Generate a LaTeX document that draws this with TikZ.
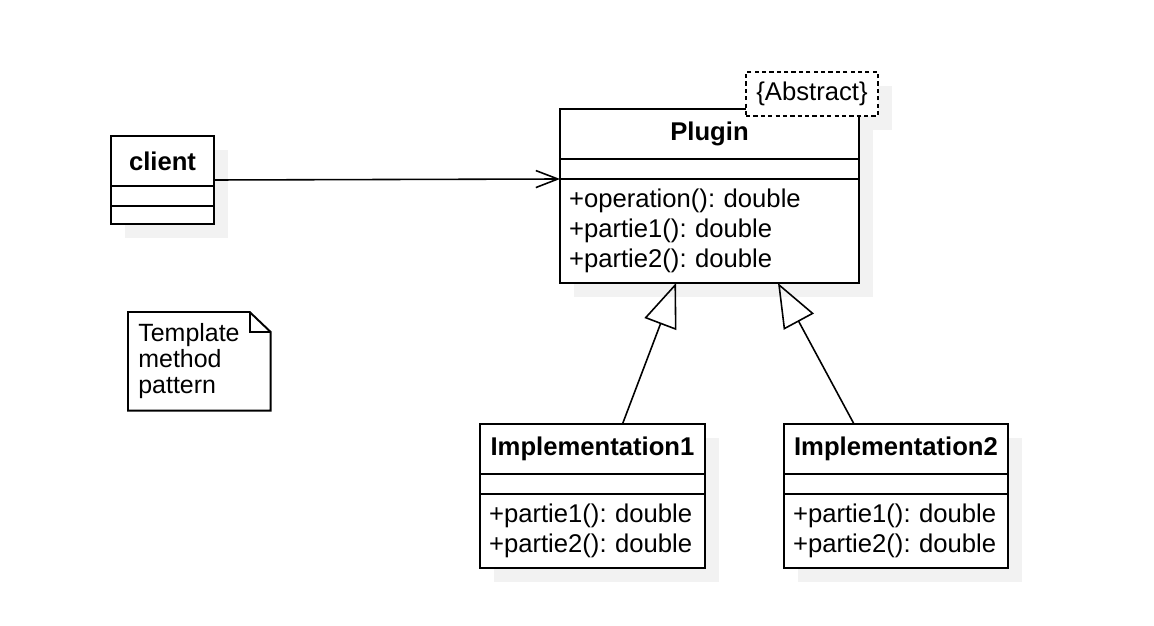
\documentclass[tikz,border=0pt]{standalone}
\usepackage{fontspec}
\setmainfont{Liberation Sans}
\usetikzlibrary{positioning, arrows.meta, calc, backgrounds}
\frenchspacing

\tikzset{
  every node/.style={font=\fontsize{14.6}{17.1}\selectfont},
  umlbox/.style={draw, fill=white, line width=1.1pt, outer sep=0pt, inner sep=0pt},
  classname/.style={umlbox, font=\fontsize{14.6}{17.1}\selectfont\bfseries, minimum height=1cm},
  classattr/.style={umlbox, minimum height=0.4cm},
  classops/.style={umlbox, align=left, inner xsep=0.18cm},
  shadowbox/.style={fill=black!5},
  extends/.style={line width=0.9pt, -{Triangle[open, length=0.88cm, width=0.68cm, line width=0.9pt]}},
  uses/.style={line width=0.9pt, -{Straight Barb[length=0.44cm, width=0.34cm, line width=0.9pt]}}
}

\begin{document}
\begin{tikzpicture}[x=0.02cm, y=-0.02cm]
        \useasboundingbox (0,0) rectangle (1154,626);

        % Client
        \node[classname, minimum width=2.06cm] (client) at (162.5,161) {client};
        \node[classattr, minimum width=2.06cm, below=0pt of client] (clientattr) {};
        \node[classattr, minimum width=2.06cm, minimum height=0.36cm, below=0pt of clientattr] (clientops) {};

        % Plugin
        \node[classname, minimum width=5.98cm] (plugin) at (709.5,134) {Plugin};
        \node[classattr, minimum width=5.98cm, below=0pt of plugin] (pluginattr) {};
        \node[classops, text width=5.62cm, minimum height=2.08cm, below=0pt of pluginattr] (pluginops)
          {+operation(): double\\+partie1(): double\\+partie2(): double};
        \node[umlbox, dashed, dash pattern=on 2.4pt off 1.8pt, minimum width=2.64cm, minimum height=0.88cm] (abstract) at (812,94) {\{Abstract\}};

        % Implementations
        \node[classname, minimum width=4.5cm] (impl1) at (592.5,449) {Implementation1};
        \node[classattr, minimum width=4.5cm, below=0pt of impl1] (impl1attr) {};
        \node[classops, text width=4.14cm, minimum height=1.48cm, below=0pt of impl1attr] (impl1ops)
          {+partie1(): double\\+partie2(): double};

        \node[classname, minimum width=4.48cm] (impl2) at (896,449) {Implementation2};
        \node[classattr, minimum width=4.48cm, below=0pt of impl2] (impl2attr) {};
        \node[classops, text width=4.12cm, minimum height=1.48cm, below=0pt of impl2attr] (impl2ops)
          {+partie1(): double\\+partie2(): double};

        % Shadows
        \begin{scope}[on background layer]
          \foreach \top/\bottom in {client/clientops, plugin/pluginops, abstract/abstract, impl1/impl1ops, impl2/impl2ops}
            \fill[shadowbox] ([shift={(14,14)}]\top.north west) rectangle ([shift={(14,14)}]\bottom.south east);
        \end{scope}

        % Note
        \node[align=left, text width=2.44cm, inner xsep=0.2cm, inner ysep=0pt, minimum height=1.96cm,
              anchor=north west, font=\fontsize{14.2}{14.8}\selectfont] (note) at (128,312)
          {Template\\method\\pattern};
        \draw[line width=1.1pt] (note.north west) -- ([xshift=-0.42cm]note.north east)
          -- ([yshift=-0.4cm]note.north east) -- (note.south east) -- (note.south west) -- cycle;
        \draw[line width=1.1pt] ([xshift=-0.42cm]note.north east) -- ([xshift=-0.42cm, yshift=-0.4cm]note.north east)
          -- ([yshift=-0.4cm]note.north east);

        % Connectors
        \draw[uses] ($(client.north east)!.5!(clientops.south east)$) -- (pluginattr.south west);
        \draw[extends] ([xshift=0.6cm]impl1.north) -- ([xshift=-0.67cm]pluginops.south);
        \draw[extends] ([xshift=-0.84cm]impl2.north) -- ([xshift=1.37cm]pluginops.south);
      \end{tikzpicture}
\end{document}
